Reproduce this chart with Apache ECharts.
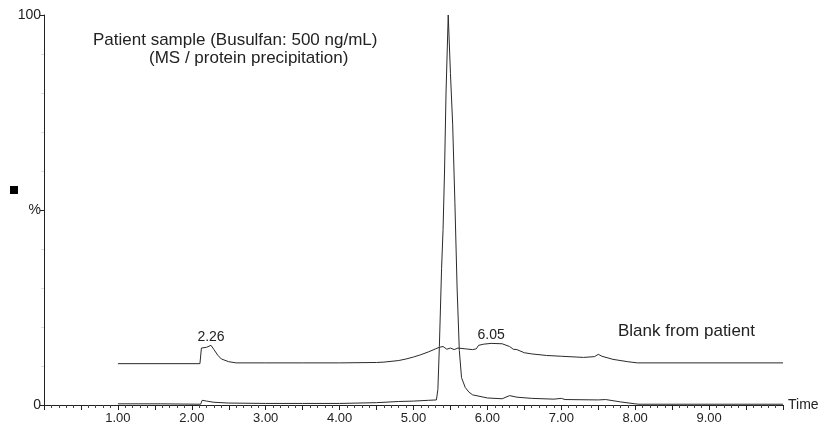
<!DOCTYPE html>
<html>
<head>
<meta charset="utf-8">
<script src="https://cdn.jsdelivr.net/npm/echarts@6/dist/echarts.min.js"></script>
<style>
html,body{margin:0;padding:0;background:#fff;}
#chart{width:823px;height:425px;}
</style>
</head>
<body>
<div id="chart"></div>
<script>
// Blank from patient (upper trace), time in min, intensity in %
var blankTime = [1.00, 2.11, 2.13, 2.20, 2.26, 2.30, 2.35, 2.40, 2.50, 2.60, 3.00, 3.50, 4.00, 4.50, 4.60, 4.80, 4.90, 5.00, 5.10, 5.20, 5.30, 5.35, 5.40, 5.45, 5.50, 5.55, 5.60, 5.70, 5.80, 5.85, 5.88, 5.95, 6.05, 6.20, 6.30, 6.35, 6.40, 6.50, 6.60, 6.80, 7.00, 7.20, 7.30, 7.45, 7.50, 7.55, 7.70, 7.90, 8.03, 10.00];
var blankPct  = [10.6, 10.6, 14.6, 14.8, 15.3, 14.2, 12.8, 11.8, 11.1, 10.8, 10.8, 10.8, 10.8, 10.9, 11.0, 11.4, 11.8, 12.3, 12.9, 13.6, 14.4, 14.8, 15.0, 14.3, 14.6, 14.2, 14.6, 14.4, 14.2, 14.4, 15.3, 15.6, 15.8, 15.7, 15.0, 14.3, 14.2, 13.4, 13.1, 12.7, 12.5, 12.3, 12.2, 12.4, 13.0, 12.5, 11.7, 11.1, 10.8, 10.8];

// Patient sample (lower trace)
var sampleTime = [1.00, 1.58, 1.60, 2.12, 2.14, 2.20, 2.30, 2.50, 3.00, 3.50, 4.00, 4.50, 4.80, 5.00, 5.20, 5.31, 5.33, 5.35, 5.38, 5.40, 5.42, 5.44, 5.47, 5.50, 5.53, 5.56, 5.59, 5.62, 5.65, 5.70, 5.75, 5.80, 5.90, 6.00, 6.20, 6.30, 6.40, 6.60, 6.90, 7.00, 7.05, 7.50, 7.60, 7.80, 8.00, 8.05, 10.00];
var samplePct  = [0.3, 0.3, 0.1, 0.2, 1.2, 1.0, 0.7, 0.5, 0.4, 0.4, 0.4, 0.6, 0.9, 1.0, 1.2, 1.3, 4.0, 15.0, 35.0, 45.0, 60.0, 80.0, 100.0, 85.0, 72.0, 52.0, 30.0, 14.0, 7.0, 4.5, 3.3, 2.6, 2.2, 1.8, 1.6, 2.4, 2.0, 1.7, 1.5, 1.7, 1.4, 1.3, 1.4, 0.8, 0.3, 0.2, 0.2];

var peakLabels = ['2.26', '6.05'];
var peakTimes = [2.26, 6.05];
var peakPct = [15.3, 15.8];

var yTickLabels = {0: '0', 50: '%', 100: '100'};

function pairs(xs, ys) { return xs.map(function (x, i) { return [x, ys[i]]; }); }

var font = 'Liberation Sans, Arial, sans-serif';
var lineColor = '#2a2a2a';

var chart = echarts.init(document.getElementById('chart'), null, {renderer: 'canvas'});
chart.setOption({
  backgroundColor: '#ffffff',
  animation: false,
  grid: {left: 44, right: 40, top: 15, bottom: 20, containLabel: false},
  xAxis: {
    type: 'value', min: 0, max: 10, interval: 0.5,
    name: 'Time', nameLocation: 'end', nameGap: 5,
    nameTextStyle: {color: '#222', fontSize: 14, fontFamily: font, verticalAlign: 'middle'},
    axisLine: {show: true, onZero: false, lineStyle: {color: '#222', width: 1}},
    axisTick: {show: true, inside: false, length: 5, lineStyle: {color: '#222'}},
    minorTick: {show: true, splitNumber: 5, length: 3, lineStyle: {color: '#444'}},
    axisLabel: {
      color: '#222', fontSize: 13, fontFamily: font, margin: 7, showMinLabel: true, showMaxLabel: false,
      formatter: function (v) { return (v >= 1 && v < 10 && Math.abs(v - Math.round(v)) < 1e-6) ? v.toFixed(2) : ''; }
    },
    splitLine: {show: false}
  },
  yAxis: {
    type: 'value', min: 0, max: 100, interval: 50,
    axisLine: {show: true, lineStyle: {color: '#222', width: 1}},
    axisTick: {show: true, length: 4, lineStyle: {color: '#222'}},
    minorTick: {show: true, splitNumber: 5, length: 3, lineStyle: {color: '#ddd'}},
    axisLabel: {
      color: '#222', fontSize: 14, fontFamily: font, margin: 3,
      formatter: function (v) { return yTickLabels[v] !== undefined ? yTickLabels[v] : ''; }
    },
    splitLine: {show: false}
  },
  series: [
    {
      name: 'Blank from patient', type: 'line', data: pairs(blankTime, blankPct),
      showSymbol: false, symbol: 'none', lineStyle: {color: lineColor, width: 1}, z: 3,
      markPoint: {
        symbol: 'circle', symbolSize: 0, silent: true,
        label: {show: true, position: 'top', distance: 1, color: '#222', fontSize: 14, fontFamily: font,
          formatter: function (p) { return p.name; }},
        data: peakLabels.map(function (l, i) { return {name: l, coord: [peakTimes[i], peakPct[i]]}; })
      }
    },
    {
      name: 'Patient sample', type: 'line', data: pairs(sampleTime, samplePct),
      showSymbol: false, symbol: 'none', lineStyle: {color: lineColor, width: 1}, z: 3
    }
  ],
  graphic: [
    {type: 'rect', left: 10, top: 186, shape: {width: 8, height: 8}, style: {fill: '#000'}},
    {type: 'text', left: 93, top: 32, style: {text: 'Patient sample (Busulfan: 500 ng/mL)', fill: '#222', font: '17px ' + font}},
    {type: 'text', left: 149, top: 50, style: {text: '(MS / protein precipitation)', fill: '#222', font: '17px ' + font}},
    {type: 'text', left: 618, top: 323, style: {text: 'Blank from patient', fill: '#222', font: '17px ' + font}}
  ]
});
</script>
</body>
</html>
